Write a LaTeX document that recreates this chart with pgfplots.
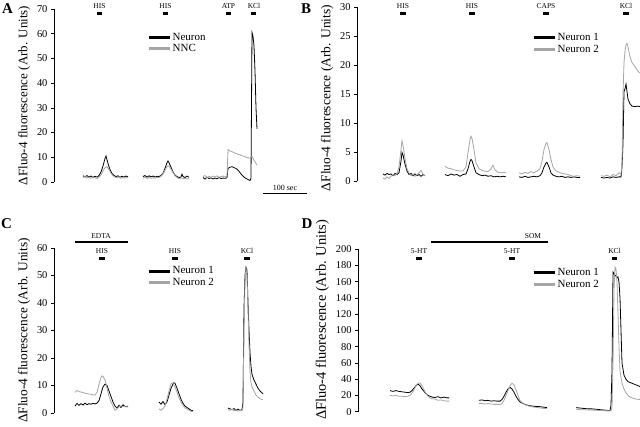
\documentclass[border=0pt]{standalone}
\usepackage{fontspec}
\setmainfont{Liberation Serif}
\usepackage{pgfplots}
\pgfplotsset{compat=1.18}
\definecolor{ngray}{RGB}{165,165,165}
\pgfplotsset{
  panel/.style={scale only axis, axis lines*=left, hide x axis, enlargelimits=false,
    clip=false, tick align=outside, major tick length=3bp, ymin=0, anchor=south west,
    /pgf/number format/assume math mode=true,
    tick label style={font=\fontsize{10.5}{12}\selectfont},
    ylabel={ΔFluo-4 fluorescence (Arb. Units)},
    axis line style={line width=0.8bp, black},
    y tick style={line width=0.6bp, black},
    unbounded coords=jump,
    every axis plot/.append style={line width=0.8bp},
    legend style={draw=none, fill=none, font=\fontsize{11}{13}\selectfont, inner sep=0pt,
      nodes={inner sep=1.5bp}, row sep=0bp, cells={anchor=west}},
    legend image code/.code={\draw[##1, line width=3bp] (0bp,0bp) -- (21bp,0bp);},
  },
}
\begin{document}
\begin{tikzpicture}
\useasboundingbox (0bp,0bp) rectangle (640bp,427bp);

% ---------------- Panel A ----------------
\begin{axis}[panel, at={(54bp,245bp)}, xmin=54, xmax=310, width=256bp, ymax=70, height=173bp,
  ytick={0,10,...,70}, ylabel style={font=\fontsize{13}{15}\selectfont},
  legend style={at={(axis cs:147,61)}, anchor=north west}]
\addplot[black] coordinates {
(83,2.5)(85,2.1)(87,2.6)(89,2.0)(91,2.4)(93,1.9)(95,2.3)(97,2.0)(99,2.6)(101,4.0)(103,6.5)(105,9.5)(106,10.5)(107,9.0)(108,7.5)(110,5.0)(112,3.5)(114,2.6)(116,2.2)(118,2.5)(120,1.9)(122,2.3)(124,2.0)(126,2.4)(128,2.1)
(135,nan)
(143,2.2)(145,2.6)(147,2.0)(149,2.5)(151,2.1)(153,2.4)(155,2.0)(157,2.3)(159,2.2)(161,2.6)(163,3.5)(165,5.5)(167,7.8)(168,8.5)(169,7.8)(171,6.0)(173,4.0)(175,2.8)(177,2.2)(179,1.8)(181,2.0)(182,3.2)(183,2.2)(185,1.8)(187,2.4)(189,1.9)
(195,nan)
(203,1.8)(205,1.2)(207,1.9)(209,1.4)(211,1.7)(213,1.2)(215,1.6)(217,1.3)(219,1.8)(221,1.4)(223,1.6)(225,1.5)(227,1.7)(228,5.5)(230,6.0)(232,6.2)(234,5.8)(236,5.5)(238,4.8)(240,3.8)(242,2.8)(244,2.0)(246,1.4)(248,1.0)(250,0.6)(251,1.5)(252,60.5)(253,59)(254,55)(255,45)(256,30)(257,21.5)
};
\addlegendentry{Neuron}
\addplot[ngray] coordinates {
(83,1.8)(85,2.2)(87,1.6)(89,2.0)(91,1.5)(93,2.1)(95,1.7)(97,1.4)(99,1.9)(101,2.8)(103,4.5)(105,5.8)(107,6.2)(109,5.0)(111,3.5)(113,2.5)(115,2.0)(117,1.6)(119,2.1)(121,1.5)(123,1.9)(125,1.6)(128,1.8)
(135,nan)
(143,1.5)(145,1.9)(147,1.4)(149,1.8)(151,1.5)(153,1.7)(155,1.6)(157,1.9)(159,1.8)(161,2.3)(163,3.2)(165,4.8)(167,6.2)(169,6.5)(171,5.2)(173,3.8)(175,2.6)(177,1.8)(179,1.4)(181,1.6)(183,1.3)(185,1.5)(187,1.2)(189,1.4)
(195,nan)
(203,2.2)(205,2.6)(207,1.8)(209,2.3)(211,1.9)(213,2.4)(215,2.0)(217,2.5)(219,1.9)(221,2.2)(223,2.4)(225,2.1)(227,2.3)(228,13.2)(230,12.5)(232,12.3)(234,11.8)(236,11.6)(238,11.2)(240,11.0)(242,10.6)(244,10.4)(246,10.0)(248,9.8)(250,9.6)(252,10.4)(253,9.5)(255,8.2)(257,6.8)
};
\addlegendentry{NNC}
\end{axis}

% ---------------- Panel B ----------------
\begin{axis}[panel, at={(357bp,245.5bp)}, xmin=357, xmax=640, width=283bp, ymax=30, height=174bp,
  ytick={0,5,...,30}, ylabel style={font=\fontsize{13.5}{15}\selectfont, at={(ticklabel cs:0.48)}},
  legend style={at={(axis cs:532,25.8)}, anchor=north west}]
\addplot[black] coordinates {
(383,1.3)(385,1.1)(387,1.4)(389,1.2)(391,1.3)(393,1.0)(395,1.4)(397,1.2)(399,1.5)(401,3.5)(402,5.0)(403,4.6)(405,3.0)(407,1.8)(409,1.2)(411,1.4)(413,1.0)(415,1.3)(417,1.0)(419,1.2)(421,0.9)(423,1.2)(425,1.0)
(435,nan)
(445,1.2)(448,1.0)(451,1.3)(454,1.1)(457,1.2)(460,0.9)(463,1.2)(466,1.3)(468,2.2)(470,3.5)(471,3.8)(472,3.6)(474,2.5)(476,1.5)(479,1.2)(482,1.0)(485,1.1)(488,0.9)(491,1.0)(494,0.8)(497,0.9)(500,0.8)(503,0.9)(506,0.8)
(512,nan)
(519,0.8)(522,0.7)(525,0.9)(528,0.7)(531,0.8)(534,0.9)(537,0.8)(540,1.0)(542,1.5)(544,2.5)(546,3.2)(547,3.3)(549,2.5)(551,1.5)(553,1.1)(556,0.9)(559,0.8)(562,0.9)(565,0.7)(568,0.8)(571,0.7)(574,0.8)(577,0.7)(580,0.7)
(590,nan)
(601,0.7)(604,0.6)(607,0.7)(610,0.6)(613,0.8)(616,0.7)(619,0.8)(621,0.8)(622,2.5)(623,6.5)(624,15.5)(625,16.0)(626,16.8)(627,15.5)(628,14.2)(630,13.4)(632,13.0)(635,12.9)(638,13.0)(640,12.9)
};
\addlegendentry{Neuron 1}
\addplot[ngray] coordinates {
(383,0.6)(385,0.4)(387,0.8)(389,0.5)(391,0.9)(393,1.2)(395,1.0)(397,1.4)(399,2.5)(401,5.5)(402,7.0)(403,6.2)(405,4.0)(407,2.2)(409,1.5)(411,1.0)(413,1.3)(415,0.9)(417,1.2)(419,1.5)(421,1.9)(423,1.2)(425,1.0)
(435,nan)
(445,2.6)(448,2.3)(451,2.2)(454,2.0)(457,1.9)(460,1.8)(463,1.8)(466,2.5)(468,5.0)(470,7.2)(471,7.8)(472,7.4)(474,5.5)(476,3.2)(479,2.2)(482,1.9)(485,1.8)(488,1.7)(491,2.2)(493,2.8)(495,2.0)(498,1.6)(501,1.5)(504,1.6)(506,1.5)
(512,nan)
(519,1.5)(522,1.3)(525,1.6)(528,1.4)(531,1.7)(534,1.5)(537,1.8)(540,2.2)(542,3.5)(544,5.5)(546,6.6)(547,6.7)(549,5.5)(551,3.8)(553,2.5)(556,1.8)(559,1.6)(562,1.4)(565,1.3)(568,1.2)(571,1.0)(574,0.9)(577,1.0)(580,0.9)
(590,nan)
(601,1.0)(604,0.9)(607,1.1)(610,0.8)(613,1.2)(616,1.0)(619,1.5)(621,1.3)(622,3.0)(623,15)(624,20.5)(625,22.5)(626,23.6)(627,23.8)(628,23.2)(630,21.5)(632,20.5)(635,19.8)(638,19.0)(640,18.7)
};
\addlegendentry{Neuron 2}
\end{axis}

% ---------------- Panel C ----------------
\begin{axis}[panel, at={(54bp,14bp)}, xmin=54, xmax=300, width=246bp, ymax=60, height=165bp,
  ytick={0,10,...,60}, ylabel style={font=\fontsize{13.4}{15}\selectfont},
  legend style={at={(axis cs:147,53.8)}, anchor=north west}]
\addplot[black] coordinates {
(75,2.5)(77,3.5)(79,2.8)(81,3.4)(83,2.9)(85,3.6)(87,3.0)(89,3.4)(91,3.2)(93,3.5)(95,3.3)(97,3.6)(99,4.5)(101,7.0)(103,9.5)(105,10.5)(107,10.0)(109,8.0)(111,6.0)(113,4.0)(115,2.5)(117,1.8)(119,2.8)(121,2.0)(123,3.0)(125,2.3)(128,2.5)
(140,nan)
(159,4.0)(161,3.2)(163,4.2)(165,3.0)(167,4.0)(169,6.5)(171,9.0)(173,10.5)(174,11.0)(175,10.8)(177,9.0)(179,7.0)(181,5.0)(183,3.5)(185,2.5)(187,2.0)(189,1.5)(191,1.0)(193,0.8)
(210,nan)
(228,1.8)(230,1.5)(232,1.2)(234,1.6)(236,1.0)(238,1.4)(240,0.9)(242,1.2)(243,4)(244,38)(245,50)(246,53)(247,52)(248,40)(249,30)(250,22)(251,17)(252,14)(254,12)(256,10.5)(258,9)(260,8)(263,7)
};
\addlegendentry{Neuron 1}
\addplot[ngray] coordinates {
(75,7.5)(77,8.2)(79,7.8)(81,7.6)(83,7.5)(85,7.2)(87,7.0)(89,6.9)(91,6.8)(93,6.6)(95,6.5)(97,7.5)(99,10.5)(101,13.0)(102,13.5)(103,13.3)(105,12.0)(107,9.0)(109,6.0)(111,4.0)(113,2.5)(115,1.0)(117,1.5)(119,2.2)(121,2.6)(123,2.4)(125,2.3)(128,2.2)
(140,nan)
(159,1.5)(161,1.0)(163,1.6)(165,2.5)(167,5.0)(169,8.0)(171,10.5)(172,11.0)(173,10.8)(175,9.5)(177,7.5)(179,5.5)(181,4.0)(183,2.8)(185,1.8)(187,1.5)(189,1.0)(191,0.6)(193,0.5)
(210,nan)
(228,1.2)(230,1.0)(232,1.4)(234,0.8)(236,1.1)(238,0.7)(240,0.9)(242,0.8)(243,2)(244,30)(245,48)(246,53)(247,50)(248,38)(249,25)(250,15)(251,11)(252,9.5)(254,8)(256,6.5)(258,5.8)(260,5.2)(263,4.8)
};
\addlegendentry{Neuron 2}
\end{axis}

% ---------------- Panel D ----------------
\begin{axis}[panel, at={(358bp,15.3bp)}, xmin=358, xmax=640, width=282bp, ymax=200, height=162.4bp,
  ytick={0,20,...,200}, ylabel style={font=\fontsize{14.5}{16}\selectfont, at={(ticklabel cs:0.565)}},
  legend style={at={(axis cs:532,179)}, anchor=north west}]
\addplot[black] coordinates {
(390,26)(393,25)(396,26)(399,25)(402,24.5)(405,24)(408,23.5)(410,24)(412,26)(414,29)(416,32)(418,34)(420,32)(422,28)(424,25)(426,22)(428,20)(430,19)(432,18)(435,17.5)(438,18.5)(441,17)(444,18)(447,17)(449,17)
(460,nan)
(479,14)(482,14.5)(485,13.5)(488,14)(491,13)(494,13.5)(497,13)(500,13)(502,15)(504,19)(506,24)(508,28)(510,30)(512,28)(514,24)(516,19)(518,15)(520,12)(523,10)(526,8.5)(529,7.5)(532,7)(535,6.5)(538,6.5)(541,6)(544,5.5)(547,5)
(560,nan)
(576,5)(580,4.5)(584,4)(588,3.5)(592,3.5)(596,3)(600,2.5)(604,2)(608,1.5)(610,1.5)(611,8)(612,50)(613,172)(614,170)(615,167)(616,168)(617,165)(618,166)(619,160)(620,140)(621,100)(622,60)(624,45)(626,40)(628,37)(632,35)(636,33)(640,31)
};
\addlegendentry{Neuron 1}
\addplot[ngray] coordinates {
(390,20)(393,19.5)(396,20)(399,19)(402,19)(405,18.5)(408,19)(410,20)(412,23)(414,27)(416,32)(418,35)(420,35.5)(422,32)(424,27)(426,22)(428,19)(430,17)(432,16)(435,15.5)(438,14)(441,14.5)(444,13.5)(447,13)(449,13)
(460,nan)
(479,10)(482,10)(485,9.5)(488,10)(491,9.5)(494,9)(497,9)(500,9)(502,10)(504,14)(506,20)(508,26)(510,32)(512,35)(514,33)(516,27)(518,20)(520,14)(523,10)(526,8)(529,7)(532,6)(535,5.5)(538,5)(541,4.5)(544,4)(547,4)
(560,nan)
(576,3)(580,2.5)(584,2.5)(588,2)(592,2)(596,1.8)(600,1.5)(604,1.2)(608,1)(611,1)(612,5)(613,60)(614,150)(615,178)(616,176)(617,160)(618,120)(619,80)(620,50)(622,35)(624,28)(626,23)(629,19)(632,17)(636,15.5)(640,15)
};
\addlegendentry{Neuron 2}
\end{axis}

% ---------------- Annotations ----------------
\begin{scope}[x=1bp,y=1bp]
\tikzset{stim/.style={font=\fontsize{7.5}{8}\selectfont, inner sep=0pt}, sbar/.style={line width=3bp}}
\node[font=\bfseries\fontsize{15}{16}\selectfont] at (7.5,418) {A};
\node[font=\bfseries\fontsize{15}{16}\selectfont] at (306,418) {B};
\node[font=\bfseries\fontsize{15}{16}\selectfont] at (6.5,203) {C};
\node[font=\bfseries\fontsize{15}{16}\selectfont] at (307,203) {D};
% A
\node[stim] at (99.5,421) {HIS}; \draw[sbar] (97,413) -- (102,413);
\node[stim] at (165.5,421) {HIS}; \draw[sbar] (163,413) -- (168,413);
\node[stim] at (228.5,421) {ATP}; \draw[sbar] (226,413) -- (231,413);
\node[stim] at (254,421) {KCl}; \draw[sbar] (251,413) -- (256,413);
\draw[line width=1bp] (263,233) -- (307,233);
\node[font=\fontsize{8}{9}\selectfont, inner sep=0pt] at (285,239.5) {100 sec};
% B
\node[stim] at (403,421) {HIS}; \draw[sbar] (400,413) -- (406,413);
\node[stim] at (472,421) {HIS}; \draw[sbar] (469,413) -- (475,413);
\node[stim] at (546,421) {CAPS}; \draw[sbar] (543,413) -- (549,413);
\node[stim] at (626,421) {KCl}; \draw[sbar] (623,413) -- (629,413);
% C
\node[stim] at (101,191) {EDTA}; \draw[line width=2bp] (75,185) -- (128,185);
\node[stim] at (102,176) {HIS}; \draw[sbar] (99,168) -- (105,168);
\node[stim] at (175,176) {HIS}; \draw[sbar] (172,168) -- (178,168);
\node[stim] at (247,176) {KCl}; \draw[sbar] (244,168) -- (250,168);
% D
\node[stim] at (533,191) {SOM}; \draw[line width=2bp] (431,185) -- (548,185);
\node[stim] at (419,176) {5-HT}; \draw[sbar] (416,168) -- (422,168);
\node[stim] at (512,176) {5-HT}; \draw[sbar] (509,168) -- (515,168);
\node[stim] at (614.5,176) {KCl}; \draw[sbar] (612,168) -- (617,168);
\end{scope}
\end{tikzpicture}
\end{document}
